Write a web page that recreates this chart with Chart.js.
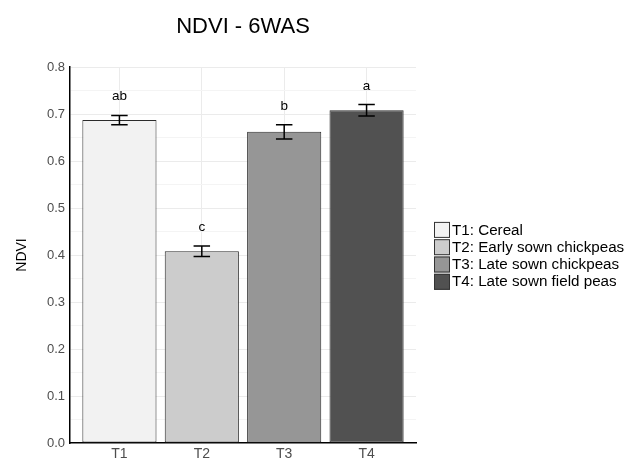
<!DOCTYPE html>
<html>
<head>
<meta charset="utf-8">
<title>NDVI - 6WAS</title>
<script src="https://cdn.jsdelivr.net/npm/chart.js@4.4.1/dist/chart.umd.min.js"></script>
<style>
  html, body { margin: 0; padding: 0; background: #fff; }
</style>
</head>
<body>
<canvas id="ndviChart" width="627" height="460"></canvas>
<script>
// Treatments and NDVI readings at 6 weeks after sowing
const treatments = ['T1', 'T2', 'T3', 'T4'];
const treatmentNames = [
    'T1: Cereal',
    'T2: Early sown chickpeas',
    'T3: Late sown chickpeas',
    'T4: Late sown field peas'
];
const ndviMean = [0.687, 0.408, 0.662, 0.708];
const ndviSe = [0.010, 0.011, 0.015, 0.012];
const groupLetters = ['ab', 'c', 'b', 'a'];

// Grey fill per treatment
const FILL_COLORS = ['#F2F2F2', '#CCCCCC', '#969696', '#515151'];
const FONT = '"Liberation Sans", Arial, sans-serif';

/**
 * Draws the standard error bars and the significance letters above each bar
 */
const errorBarPlugin = {
    id: 'errorBars',
    afterDatasetsDraw(chart) {
        const { ctx, scales: { x, y } } = chart;
        ctx.save();
        ctx.strokeStyle = '#000';
        ctx.lineWidth = 1.5;
        treatments.forEach((t, i) => {
            const cx = x.getPixelForValue(i + 1);
            const half = x.getPixelForValue(i + 1.1) - cx;
            const top = y.getPixelForValue(ndviMean[i] + ndviSe[i]);
            const bottom = y.getPixelForValue(ndviMean[i] - ndviSe[i]);
            ctx.beginPath();
            ctx.moveTo(cx, top);
            ctx.lineTo(cx, bottom);
            ctx.moveTo(cx - half, top);
            ctx.lineTo(cx + half, top);
            ctx.moveTo(cx - half, bottom);
            ctx.lineTo(cx + half, bottom);
            ctx.stroke();

            ctx.fillStyle = '#000';
            ctx.font = '13.5px ' + FONT;
            ctx.textAlign = 'center';
            ctx.textBaseline = 'middle';
            ctx.fillText(groupLetters[i], cx, y.getPixelForValue(ndviMean[i] + ndviSe[i] + 0.04));
        });
        ctx.restore();
    }
};

/**
 * Legend with square fill keys, placed right of the plot panel
 */
const fillLegendPlugin = {
    id: 'fillLegend',
    afterDraw(chart) {
        const { ctx, chartArea } = chart;
        const keySize = 16;
        const rowHeight = 17.3;
        const left = chartArea.right + 18;
        const startY = (chartArea.top + chartArea.bottom) / 2 - (rowHeight * treatmentNames.length) / 2 + 1.5;
        ctx.save();
        ctx.font = '15.2px ' + FONT;
        ctx.textAlign = 'left';
        ctx.textBaseline = 'middle';
        treatmentNames.forEach((name, i) => {
            const top = startY + i * rowHeight;
            ctx.fillStyle = FILL_COLORS[i];
            ctx.fillRect(left, top, keySize, keySize);
            ctx.strokeStyle = '#333';
            ctx.lineWidth = 1;
            ctx.strokeRect(left + 0.5, top + 0.5, keySize - 1, keySize - 1);
            ctx.fillStyle = '#000';
            ctx.fillText(name, left + keySize + 2, top + keySize / 2 + 0.5);
        });
        ctx.restore();
    }
};

const ctx = document.getElementById('ndviChart').getContext('2d');

new Chart(ctx, {
    type: 'bar',
    data: {
        datasets: [{
            label: 'NDVI',
            data: ndviMean.map((v, i) => ({ x: i + 1, y: v })),
            backgroundColor: FILL_COLORS,
            borderColor: '#2b2b2b',
            borderWidth: 1,
            borderSkipped: false,
            barPercentage: 0.9,
            categoryPercentage: 1.0
        }]
    },
    options: {
        responsive: false,
        animation: false,
        devicePixelRatio: 1,
        layout: {
            padding: { top: 0, left: 0, right: 211, bottom: 0 }
        },
        plugins: {
            legend: { display: false },
            tooltip: { enabled: false },
            title: {
                display: true,
                text: 'NDVI - 6WAS',
                fullSize: false,
                color: '#000',
                font: { family: FONT, size: 22, weight: 'normal' },
                padding: { top: 13.5, bottom: 27.1 }
            }
        },
        scales: {
            x: {
                type: 'linear',
                min: 0.4,
                max: 4.6,
                offset: false,
                afterBuildTicks(scale) {
                    scale.ticks = treatments.map((t, i) => ({ value: i + 1 }));
                },
                afterFit(scale) {
                    scale.height = 17;
                },
                ticks: {
                    color: '#4D4D4D',
                    font: { family: FONT, size: 14 },
                    padding: 3,
                    callback: (value) => treatments[Math.round(value) - 1]
                },
                grid: {
                    offset: false,
                    color: '#EBEBEB',
                    lineWidth: 1,
                    drawTicks: false
                },
                border: { display: true, color: '#000', width: 1.5 }
            },
            y: {
                min: 0,
                max: 0.8,
                afterFit(scale) {
                    scale.width = 70;
                },
                ticks: {
                    stepSize: 0.05,
                    color: '#4D4D4D',
                    font: { family: FONT, size: 13 },
                    padding: 5,
                    callback: (value) => {
                        const hundredths = Math.round(value * 100);
                        return hundredths % 10 === 0 ? (hundredths / 100).toFixed(1) : '';
                    }
                },
                grid: {
                    drawTicks: false,
                    lineWidth: 1,
                    color: (c) => {
                        const hundredths = Math.round(c.tick.value * 100);
                        if (hundredths === 0) return 'rgba(0,0,0,0)';
                        return hundredths % 10 === 0 ? '#EBEBEB' : '#F4F4F4';
                    }
                },
                border: { display: true, color: '#000', width: 1.5 },
                title: {
                    display: true,
                    text: 'NDVI',
                    color: '#000',
                    font: { family: FONT, size: 14 },
                    padding: { top: 14, bottom: 0 }
                }
            }
        }
    },
    plugins: [errorBarPlugin, fillLegendPlugin]
});
</script>
</body>
</html>
